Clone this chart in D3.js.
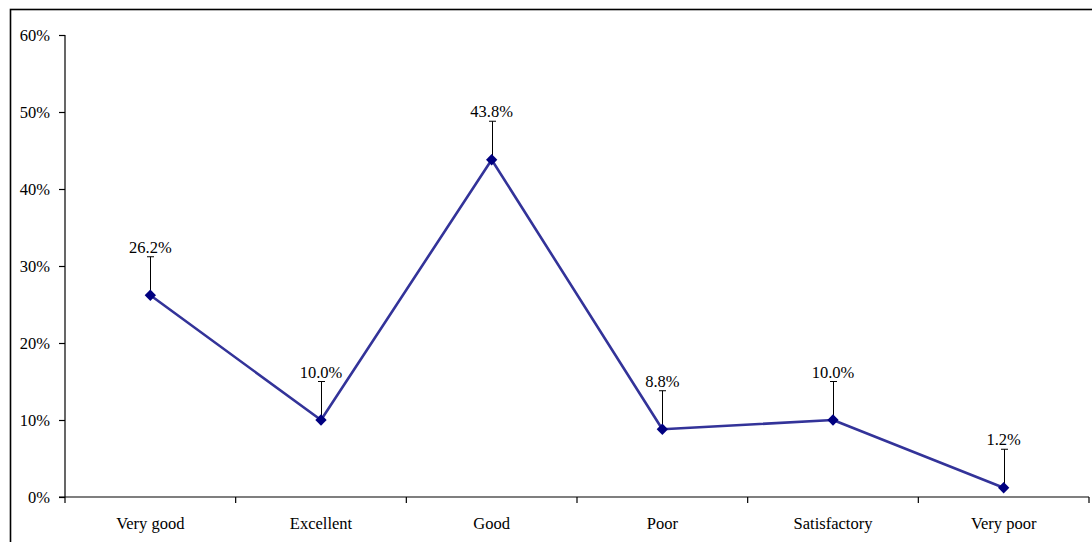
<!DOCTYPE html>
<html>
<head>
<meta charset="utf-8">
<script src="https://cdn.jsdelivr.net/npm/d3@7"></script>
<style>
  html, body { margin: 0; padding: 0; background: #fff; }
  svg { display: block; }
</style>
</head>
<body>
<svg id="chart" width="1092" height="542"></svg>
<script>
// Ratings and their shares (%)
const categories = ["Very good", "Excellent", "Good", "Poor", "Satisfactory", "Very poor"];
const shares = [26.2, 10.0, 43.8, 8.8, 10.0, 1.2];
const errorPlus = [5, 5, 5, 5, 5, 5];
const yTicks = [0, 10, 20, 30, 40, 50, 60];

const FONT = "'Liberation Serif', 'Times New Roman', Times, serif";
const FS = "16.5px";

const svg = d3.select("#chart");
const W = 1092, H = 542;
const plotLeft = 65, plotRight = 1089, plotTop = 35, plotBottom = 497;

// Outer frame
svg.append("rect")
  .attr("x", 10.5).attr("y", 9.5)
  .attr("width", W + 10).attr("height", H + 10)
  .attr("fill", "none").attr("stroke", "#000").attr("stroke-width", 1.6);

const x = d3.scaleBand().domain(categories).range([plotLeft, plotRight]);
const y = d3.scaleLinear().domain([0, 60]).range([plotBottom, plotTop]);

// Y axis
const yAxis = svg.append("g")
  .attr("transform", `translate(${plotLeft},0)`)
  .call(d3.axisLeft(y).tickValues(yTicks).tickSize(6).tickPadding(9)
    .tickFormat(d => d + "%"));
yAxis.attr("font-family", FONT).attr("font-size", FS);
yAxis.selectAll("path, line").attr("stroke", "#000").attr("stroke-width", 1.2);
yAxis.select(".domain").attr("d", `M0,${plotTop}V${plotBottom + 6}`);
yAxis.selectAll("text").attr("fill", "#000");

// X axis with ticks at category boundaries
const xg = svg.append("g").attr("transform", `translate(0,${plotBottom})`)
  .attr("font-family", FONT).attr("font-size", FS);
xg.append("line").attr("x1", plotLeft - 6).attr("x2", plotRight)
  .attr("stroke", "#000").attr("stroke-width", 1.2);
const bounds = categories.map(c => x(c)).concat([plotRight]);
xg.selectAll("line.tk").data(bounds.slice(1)).join("line")
  .attr("class", "tk")
  .attr("x1", d => d).attr("x2", d => d)
  .attr("y1", 0).attr("y2", 6)
  .attr("stroke", "#000").attr("stroke-width", 1.2);
xg.selectAll("text").data(categories).join("text")
  .attr("x", d => x(d) + x.bandwidth() / 2)
  .attr("y", 32)
  .attr("text-anchor", "middle")
  .attr("fill", "#000")
  .text(d => d);

const cx = i => x(categories[i]) + x.bandwidth() / 2;

// Error bars (plus direction)
const eb = svg.append("g").attr("stroke", "#000").attr("stroke-width", 1);
shares.forEach((v, i) => {
  const xc = Math.round(cx(i)) + 0.5;
  eb.append("line").attr("x1", xc).attr("x2", xc)
    .attr("y1", y(v)).attr("y2", y(v + errorPlus[i]));
  eb.append("line").attr("x1", xc - 3.5).attr("x2", xc + 3.5)
    .attr("y1", y(v + errorPlus[i])).attr("y2", y(v + errorPlus[i]));
});

// Series line
const line = d3.line().x((d, i) => cx(i)).y(d => y(d));
svg.append("path").datum(shares)
  .attr("d", line)
  .attr("fill", "none")
  .attr("stroke", "#333399")
  .attr("stroke-width", 2.6)
  .attr("stroke-linejoin", "round");

// Diamond markers
const diamond = d3.symbol().type(d3.symbolSquare).size(64);
svg.selectAll("path.mk").data(shares).join("path")
  .attr("class", "mk")
  .attr("d", diamond)
  .attr("transform", (d, i) => `translate(${cx(i)},${y(d)}) rotate(45)`)
  .attr("fill", "#000080");

// Value labels
svg.append("g").attr("font-family", FONT).attr("font-size", FS)
  .selectAll("text").data(shares).join("text")
  .attr("x", (d, i) => cx(i))
  .attr("y", (d, i) => y(d + errorPlus[i]) - 4)
  .attr("text-anchor", "middle")
  .attr("fill", "#000")
  .text(d => d.toFixed(1) + "%");
</script>
</body>
</html>
